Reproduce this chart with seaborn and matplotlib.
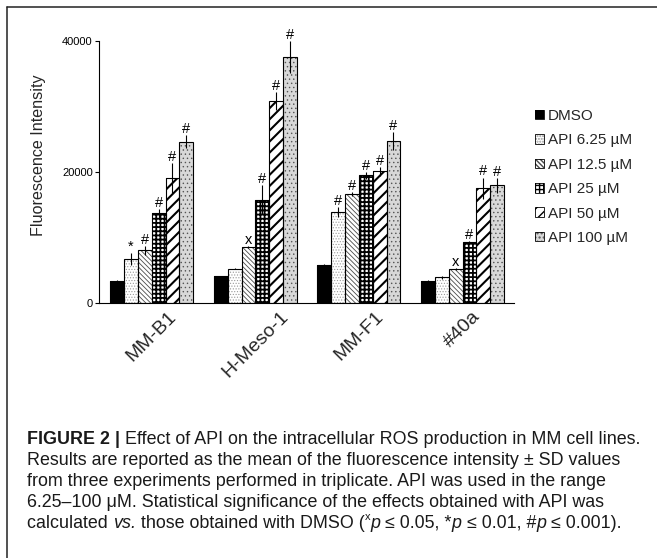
import numpy as np
import pandas as pd
import matplotlib
matplotlib.use("Agg")
import matplotlib.pyplot as plt
import seaborn as sns
from matplotlib.patches import Rectangle
from matplotlib.lines import Line2D
from matplotlib.legend_handler import HandlerTuple
from matplotlib import font_manager as fm

# ---------------- data ----------------
cell_lines = ["MM-B1", "H-Meso-1", "MM-F1", "#40a"]
treatments = ["DMSO", "API 6.25 µM", "API 12.5 µM", "API 25 µM", "API 50 µM", "API 100 µM"]

mean_mm_b1 = [3300, 6700, 8050, 13700, 19100, 24600]
mean_h_meso1 = [4050, 5250, 8550, 15800, 30850, 37550]
mean_mm_f1 = [5800, 13900, 16650, 19500, 20100, 24700]
mean_40a = [3300, 3900, 5250, 9300, 17550, 17950]

sd_mm_b1 = [150, 900, 700, 650, 2300, 1000]
sd_h_meso1 = [100, 100, 150, 2200, 1400, 2450]
sd_mm_f1 = [100, 750, 300, 500, 650, 1400]
sd_40a = [250, 250, 150, 200, 1600, 1150]

sig_mm_b1 = ["", "*", "#", "#", "#", "#"]
sig_h_meso1 = ["", "", "x", "#", "#", "#"]
sig_mm_f1 = ["", "#", "#", "#", "#", "#"]
sig_40a = ["", "", "x", "#", "#", "#"]

y_ticks = [0, 20000, 40000]
y_label = "Fluorescence Intensity"

caption_lines = [
    [("FIGURE 2 | ", "bold"), ("Effect of API on the intracellular ROS production in MM cell lines.", "normal")],
    [("Results are reported as the mean of the fluorescence intensity ± SD values", "normal")],
    [("from three experiments performed in triplicate. API was used in the range", "normal")],
    [("6.25–100 μM. Statistical significance of the effects obtained with API was", "normal")],
    [("calculated ", "normal"), ("vs.", "italic"), (" those obtained with DMSO (", "normal"), ("x", "sup"),
     ("p", "italic"), (" ≤ 0.05, *", "normal"), ("p", "italic"), (" ≤ 0.01, #", "normal"), ("p", "italic"),
     (" ≤ 0.001).", "normal")],
]

means = [mean_mm_b1, mean_h_meso1, mean_mm_f1, mean_40a]
sds = [sd_mm_b1, sd_h_meso1, sd_mm_f1, sd_40a]
sigs = [sig_mm_b1, sig_h_meso1, sig_mm_f1, sig_40a]

rows = []
for ci, cl in enumerate(cell_lines):
    for ti, tr in enumerate(treatments):
        rows.append(dict(cell=cl, treatment=tr, value=means[ci][ti], sd=sds[ci][ti], sig=sigs[ci][ti]))
df = pd.DataFrame(rows)

# ---------------- style ----------------
sns.set_style("white")
names = {f.name for f in fm.fontManager.ttflist}
main_font = "Liberation Sans" if "Liberation Sans" in names else "DejaVu Sans"
cap_font = "Liberation Sans Narrow" if "Liberation Sans Narrow" in names else main_font
plt.rcParams["font.family"] = [main_font, "DejaVu Sans"]

W, H = 657, 558
fig = plt.figure(figsize=(W / 100, H / 100), dpi=100)
ax = fig.add_axes([99 / W, 1 - 303 / H, 415 / W, 262 / H])

sns.barplot(data=df, x="cell", y="value", hue="treatment", order=cell_lines,
            hue_order=treatments, errorbar=None, width=0.8, ax=ax, legend=False,
            palette=["white"] * 6, saturation=1)

# bar pattern styles: (facecolor, hatch, hatch colour, hatch linewidth)
styles = [
    ("black", None, "black", 0.8),
    ("white", "......", "#9a9a9a", 0.5),
    ("white", "\\\\\\\\\\\\\\", "#4a4a4a", 0.6),
    ("white", "++++", "black", 1.3),
    ("white", "///", "black", 1.5),
    ("#d8d8d8", "....", "#555555", 0.5),
]


def style_patch(p, st):
    face, hatch, hcol, hlw = st
    p.set_facecolor(face)
    p.set_edgecolor(hcol)
    p.set_hatch(hatch)
    p.set_linewidth(0)
    try:
        p.set_hatch_linewidth(hlw)
    except AttributeError:
        pass


bar_containers = list(ax.containers)
for hi, cont in enumerate(bar_containers):
    for ci, bar in enumerate(cont):
        style_patch(bar, styles[hi])
        outline = Rectangle((bar.get_x(), bar.get_y()), bar.get_width(), bar.get_height(),
                            fill=False, edgecolor="black", linewidth=0.8, zorder=bar.get_zorder() + 0.1)
        ax.add_patch(outline)
        xc = bar.get_x() + bar.get_width() / 2
        m = means[ci][hi]
        s = sds[ci][hi]
        ax.errorbar(xc, m, yerr=s, fmt="none", ecolor="black", elinewidth=0.8, capsize=0, zorder=5)
        lab = sigs[ci][hi]
        if lab:
            ax.annotate(lab, (xc, m + s), xytext=(0, 1.5), textcoords="offset points",
                        ha="center", va="baseline", fontsize=10.5, color="black", annotation_clip=False)

ax.set_xlim(-0.509, 3.497)
ax.set_ylim(0, 40000)
ax.set_yticks(y_ticks)
ax.set_yticklabels([str(v) for v in y_ticks], fontsize=8)
ax.set_xlabel("")
ax.set_ylabel("")
ax.tick_params(axis="y", length=3, width=0.8, pad=1.5, left=True, direction="out", colors="black")
ax.tick_params(axis="x", length=0, pad=3.5)
for lab in ax.get_xticklabels():
    lab.set_rotation(45)
    lab.set_ha("center")
    lab.set_fontsize(14)
sns.despine(ax=ax)
for sp in ["left", "bottom"]:
    ax.spines[sp].set_linewidth(0.8)
    ax.spines[sp].set_color("black")

fig.text(39 / W, 1 - 155 / H, y_label, rotation=90, ha="center", va="center", fontsize=11.6)

# legend
handles = []
for st in styles:
    hp = Rectangle((0, 0), 1, 1)
    style_patch(hp, st)
    op = Rectangle((0, 0), 1, 1, fill=False, edgecolor="black", linewidth=0.6)
    handles.append((hp, op))
fig.legend(handles, treatments, handler_map={tuple: HandlerTuple(ndivide=1, pad=0)},
           loc="upper left", bbox_to_anchor=(535 / W, 1 - 109 / H), frameon=False,
           fontsize=11, handlelength=0.6, handleheight=0.6, handletextpad=0.25,
           labelspacing=0.68, borderpad=0, borderaxespad=0)

# frame lines (left and top of the figure box)
fig.add_artist(Line2D([7 / W, 7 / W], [0, 1 - 7 / H], transform=fig.transFigure, color="#222222", lw=1.1))
fig.add_artist(Line2D([7 / W, 1], [1 - 7 / H, 1 - 7 / H], transform=fig.transFigure, color="#222222", lw=1.1))

# caption
renderer = fig.canvas.get_renderer()


def draw_line(segments, x_px, y_px, size, draw=True):
    x = x_px
    arts = []
    for txt, kind in segments:
        fs = size * (0.62 if kind == "sup" else 1.0)
        rise = 0.42 * size * 100 / 72 if kind == "sup" else 0
        t = fig.text(x / W, 1 - (y_px - rise) / H, txt, fontsize=fs, family=[cap_font, "DejaVu Sans"],
                     fontweight="bold" if kind == "bold" else "normal",
                     fontstyle="italic" if kind == "italic" else "normal",
                     ha="left", va="baseline", color="#1a1a1a")
        bb = t.get_window_extent(renderer)
        x += bb.width
        arts.append(t)
    if not draw:
        for a in arts:
            a.remove()
    return x - x_px


base = 12.0
w1 = draw_line(caption_lines[0], 27, 444, base, draw=False)
size = base * 613 / w1
baselines = [444, 465, 486, 507, 528]
for seg, yb in zip(caption_lines, baselines):
    draw_line(seg, 27, yb, size)

fig.savefig("out.png", dpi=100)
